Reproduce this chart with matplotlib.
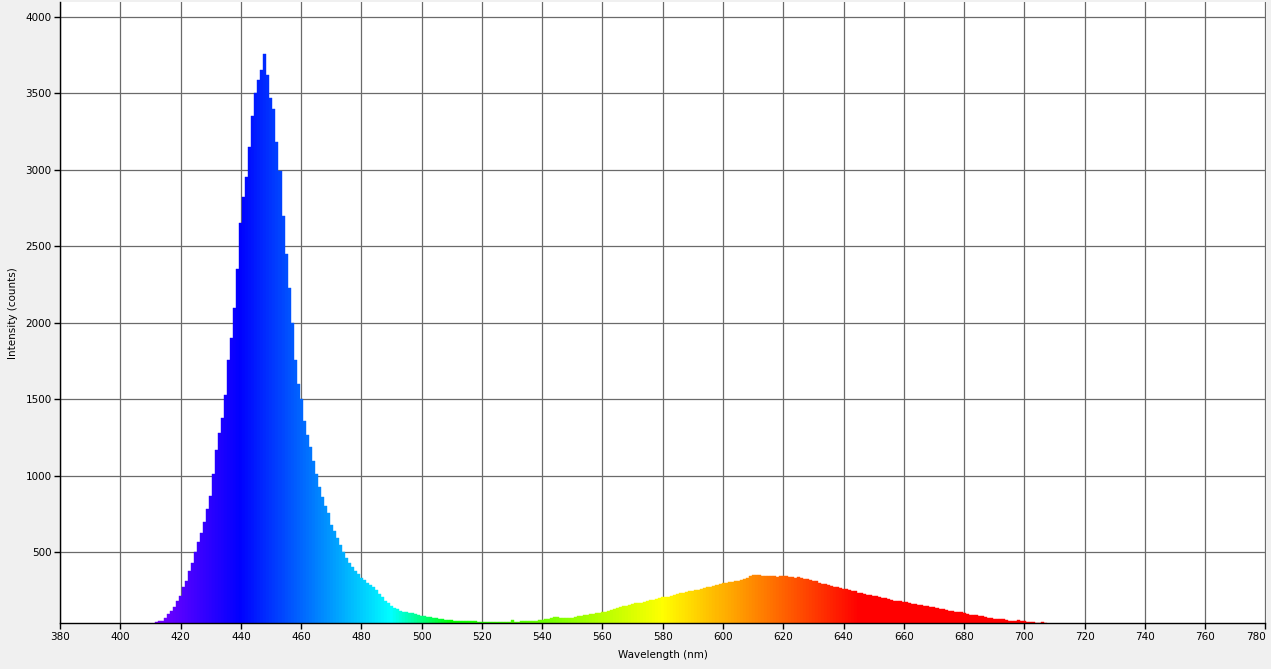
import numpy as np
import matplotlib
matplotlib.use('Agg')
import matplotlib.pyplot as plt

# spectrum, 1 nm steps from 410 nm
start_nm = 410
counts = [
    30, 33, 46, 50, 53, 70, 95, 118, 140, 180,              # 410-419
    215, 270, 310, 375, 430, 505, 570, 625, 700, 780,       # 420-429
    870, 1010, 1170, 1280, 1380, 1530, 1760, 1900, 2100, 2350,  # 430-439
    2650, 2820, 2950, 3150, 3350, 3500, 3590, 3650, 3760, 3620,  # 440-449
    3470, 3400, 3180, 2990, 2700, 2450, 2230, 2000, 1760, 1600,  # 450-459
    1500, 1360, 1270, 1190, 1100, 1010, 930, 860, 805, 755,  # 460-469
    680, 640, 595, 550, 505, 460, 430, 405, 380, 355,       # 470-479
    330, 318, 300, 288, 275, 255, 225, 205, 180, 168,       # 480-489
    150, 138, 128, 115, 110, 107, 104, 101, 96, 92,         # 490-499
    86, 82, 78, 74, 70, 68, 64, 62, 59, 58,                 # 500-509
    55, 53, 51, 49, 49, 49, 50, 51, 49, 47,                 # 510-519
    47, 45, 44, 44, 46, 45, 43, 44, 44, 47,                 # 520-529
    55, 45, 47, 48, 49, 50, 51, 52, 53, 55,                 # 530-539
    57, 61, 66, 73, 77, 74, 72, 71, 71, 71,                 # 540-549
    71, 77, 83, 85, 88, 92, 95, 97, 102, 106,               # 550-559
    108, 112, 116, 122, 127, 135, 140, 146, 151, 156,       # 560-569
    162, 166, 169, 171, 176, 182, 186, 191, 195, 201,       # 570-579
    205, 207, 211, 217, 222, 226, 234, 237, 242, 248,       # 580-589
    250, 252, 255, 260, 264, 270, 274, 280, 286, 295,       # 590-599
    297, 299, 306, 309, 311, 315, 321, 328, 335, 345,       # 600-609
    349, 352, 350, 342, 345, 347, 347, 342, 341, 342,       # 610-619
    342, 342, 340, 336, 334, 336, 331, 326, 323, 318,       # 620-629
    315, 310, 300, 295, 292, 288, 281, 276, 272, 265,       # 630-639
    260, 259, 254, 249, 246, 236, 232, 229, 222, 221,       # 640-649
    217, 212, 207, 204, 199, 194, 189, 185, 184, 179,       # 650-659
    176, 173, 168, 164, 159, 155, 154, 152, 147, 144,       # 660-669
    141, 137, 132, 127, 123, 119, 117, 113, 109, 107,       # 670-679
    103, 99, 93, 89, 88, 84, 81, 76, 72, 69,                # 680-689
    67, 64, 62, 61, 58, 53, 53, 53, 55, 53,                 # 690-699
    48, 45, 44, 42, 40, 36, 43, 35, 33,                     # 700-708
]
wavelengths = np.arange(start_nm, start_nm + len(counts))

x_ticks = list(range(380, 781, 20))
y_ticks = list(range(500, 4001, 500))


def wl_color(w):
    if w < 440:
        return ((440 - w) / 60.0, 0.0, 1.0)
    elif w < 490:
        return (0.0, (w - 440) / 50.0, 1.0)
    elif w < 510:
        return (0.0, 1.0, (510 - w) / 20.0)
    elif w < 580:
        return ((w - 510) / 70.0, 1.0, 0.0)
    elif w < 645:
        return (1.0, (645 - w) / 65.0, 0.0)
    return (1.0, 0.0, 0.0)


colors = [wl_color(w) for w in wavelengths]

plt.rcParams['font.family'] = ['DejaVu Sans']
fig = plt.figure(figsize=(12.71, 6.69), dpi=100, facecolor='#f0f0f0')
ax = fig.add_axes([60 / 1271, 1 - 623.3 / 669, 1205.5 / 1271, 621.3 / 669])
ax.set_facecolor('white')

ax.bar(wavelengths, counts, width=1.0, color=colors, edgecolor=colors,
       linewidth=0.3, zorder=2)

ax.set_xlim(380, 780)
ax.set_ylim(36, 4097)
ax.set_xticks(x_ticks)
ax.set_yticks(y_ticks)
ax.grid(True, color='#6a6a6a', linewidth=0.9, zorder=1)
ax.set_axisbelow(True)

for s in ['top', 'right']:
    ax.spines[s].set_visible(False)
for s in ['left', 'bottom']:
    ax.spines[s].set_color('black')
    ax.spines[s].set_linewidth(1.0)

ax.tick_params(axis='both', direction='out', length=4, width=1.0,
               color='black', labelsize=7.5, pad=2)

# last x label sits left of its tick so it stays inside the figure
ax.get_xticklabels()[-1].set_horizontalalignment('right')

ax.set_xlabel('Wavelength (nm)', fontsize=7.5, labelpad=6)
ax.set_ylabel('Intensity (counts)', fontsize=7.5, labelpad=5)

fig.savefig('out.png', dpi=100, facecolor=fig.get_facecolor())
